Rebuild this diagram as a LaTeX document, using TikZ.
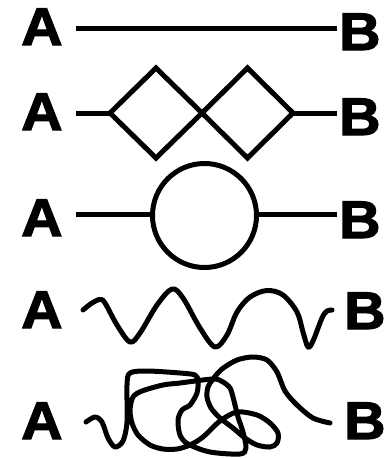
\documentclass[tikz,border=0pt]{standalone}
\usepackage{fontspec}
\setmainfont{Liberation Sans}
\newfontfamily\heavyfont[FakeBold=2.2,FakeStretch=1.08]{Liberation Sans Bold}
\begin{document}
\begin{tikzpicture}[x=1pt,y=-1pt,
  stroke/.style={line width=5pt, line join=miter},
  curvy/.style={line width=5pt, line cap=round, line join=round},
  letter/.style={font=\heavyfont\fontsize{53}{53}\selectfont, inner sep=0pt, anchor=base west}]
\useasboundingbox (0,0) rectangle (387,458);
% letters
\node[letter] (a1) at (21,45) {A};
\node[letter] (b1) at (339,50) {B};
\node[letter] (a2) at (21,130) {A};
\node[letter] (b2) at (339,135) {B};
\node[letter] (a3) at (21,236) {A};
\node[letter] (b3) at (339,238) {B};
\node[letter] (a4) at (21,328) {A};
\node[letter] (b4) at (344,329) {B};
\node[letter] (a5) at (21,439) {A};
\node[letter] (b5) at (344,439) {B};
% row 1: straight line
\coordinate (l1) at (76,28);
\coordinate (r1) at (337,28);
\draw[stroke] (l1) -- (r1);
% row 2: two diamonds
\coordinate (l2) at (76,113);
\coordinate (d1l) at (110,113);
\coordinate (d1t) at (156,68);
\coordinate (dm) at (202,113);
\coordinate (d1b) at (156,158);
\coordinate (d2t) at (247.5,68);
\coordinate (d2r) at (293,113);
\coordinate (d2b) at (247.5,158);
\coordinate (r2) at (337,113);
\draw[stroke] (l2) -- (d1l);
\draw[stroke] (d1l) -- (d1t) -- (dm) -- (d1b) -- cycle;
\draw[stroke] (dm) -- (d2t) -- (d2r) -- (d2b) -- cycle;
\draw[stroke] (d2r) -- (r2);
% row 3: circle
\node[draw, circle, stroke, minimum size=104pt, inner sep=0pt] (c) at (204.5,215.5) {};
\coordinate (l3) at (76,214);
\coordinate (r3) at (337,214);
\draw[stroke] (l3) -- (l3 -| c.west);
\draw[stroke] (r3 -| c.east) -- (r3);
% row 4: wave
\draw[curvy] plot[smooth, tension=0.55] coordinates {
  (83,310) (92,303) (100,299.5) (105,303) (117,325) (130,342) (140,333)
  (157,305) (172,289) (183,298) (200,328) (215,347) (227,335) (237,312)
  (250,297) (267,290.5) (283,295) (297,312) (303,332) (308,347) (313,341)
  (322,318) (327,311) (332,310)};
% row 5: tangle
\draw[curvy] plot[smooth, tension=0.5] coordinates {
  (86,422) (95,417) (102,422) (108,438) (115,447) (123,441) (127,422)
  (127,385) (130,373) (147,371) (180,373) (195,375) (198,381) (197,393)
  (190,405) (182,410) (178,420) (180,435) (188,444) (210,452) (240,454)
  (246,448) (243,432) (238,417) (235,405) (233,397) (230,388) (223,382)
  (213,379) (180,383) (163,385) (142,391) (133,397) (130,410) (132,423)
  (138,435) (150,445) (163,449) (177,449) (190,445) (203,437) (220,421)
  (237,412) (257,415) (270,423) (278,433) (277,443) (270,447) (257,445)
  (245,438) (233,428) (220,418) (211,408) (207,397) (208,387) (213,379)
  (222,369) (237,360) (253,357) (267,360) (277,372) (285,391) (297,405)
  (313,418) (330,423)};
\end{tikzpicture}
\end{document}
